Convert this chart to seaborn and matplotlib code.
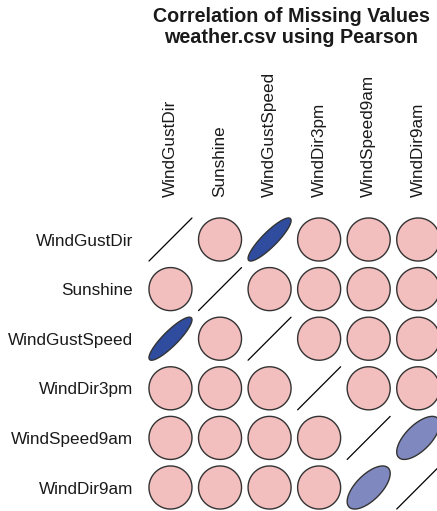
import numpy as np
import seaborn as sns
import matplotlib.pyplot as plt

variables = ["WindGustDir", "Sunshine", "WindGustSpeed",
             "WindDir3pm", "WindSpeed9am", "WindDir9am"]

# correlation of missingness
corr = [
    [1.00, 0.00, 0.88, 0.00, 0.00, 0.00],
    [0.00, 1.00, 0.00, 0.00, 0.00, 0.00],
    [0.88, 0.00, 1.00, 0.00, 0.00, 0.00],
    [0.00, 0.00, 0.00, 1.00, 0.00, 0.00],
    [0.00, 0.00, 0.00, 0.00, 1.00, 0.65],
    [0.00, 0.00, 0.00, 0.00, 0.65, 1.00],
]

title = "Correlation of Missing Values\nweather.csv using Pearson"

sns.set_style("white")
plt.rcParams['font.family'] = ['Liberation Sans', 'DejaVu Sans']
plt.rcParams['text.color'] = '#1a1a1a'
plt.rcParams['xtick.color'] = '#1a1a1a'
plt.rcParams['ytick.color'] = '#1a1a1a'

# colour by correlation: pink near zero, blue for strong positive
cmap = sns.blend_palette(["#F3BEBE", "#8088C0", "#28479C"], n_colors=256, as_cmap=True)


def corr_colour(r):
    # 0 -> pink, 0.65 -> light blue, 0.9 -> dark blue
    if r <= 0.65:
        t = max(r, 0) / 0.65 * 0.5
    else:
        t = 0.5 + min((r - 0.65) / 0.25, 1) * 0.5
    return cmap(t)


fig = plt.figure(figsize=(4.37, 5.11), dpi=100)
ax = fig.add_axes([145.7 / 437, -1.3 / 511, 297.3 / 437, 297.6 / 511])

n = len(variables)
theta = np.linspace(0, 2 * np.pi, 200)
s = 0.434
for i in range(n):
    for j in range(n):
        r = corr[i][j]
        cx, cy = j + 0.5, i + 0.5
        if i == j:
            ax.plot([cx - s, cx + s], [cy + s, cy - s], color="black", lw=0.9)
            continue
        d = np.arccos(r)
        ex = np.cos(theta + d / 2)
        ey = np.cos(theta - d / 2)
        ax.fill(cx + s * ex, cy - s * ey, facecolor=corr_colour(r),
                edgecolor="#333333", lw=1.0)

ax.set_xlim(0, n)
ax.set_ylim(n, 0)
for sp in ax.spines.values():
    sp.set_visible(False)

ax.xaxis.tick_top()
ax.set_xticks(np.arange(n) + 0.5)
ax.set_xticklabels(variables, rotation=90, fontsize=12.3)
ax.set_yticks(np.arange(n) + 0.5)
ax.set_yticklabels(variables, fontsize=12.3)
ax.tick_params(axis="x", length=0, pad=12.7)
ax.tick_params(axis="y", length=0, pad=9)

fig.text(291.5 / 437, 1 - 7 / 511, title, ha="center", va="top",
         fontsize=14.2, fontweight="bold", linespacing=1.15)

fig.savefig("out.png", dpi=100)
